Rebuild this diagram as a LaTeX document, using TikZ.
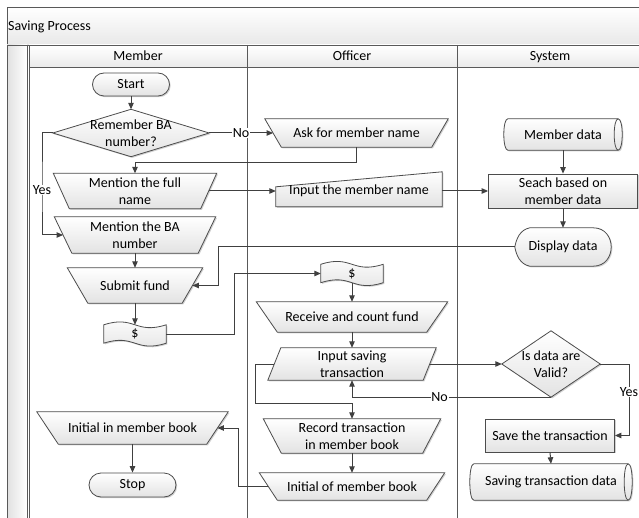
\documentclass[tikz,border=0pt]{standalone}
\usepackage{fontspec}
\setmainfont{Carlito}
\usetikzlibrary{arrows.meta,shadows}
\pgfdeclarelayer{bglayer}
\pgfdeclarelayer{shapelayer}
\pgfsetlayers{bglayer,shapelayer,main}

\tikzset{
  sz/.style 2 args={minimum width=#1pt, minimum height=#2pt},
  lbl/.style={inner sep=0pt, align=center},
  shp/.style={draw=black!70, line width=0.8pt, top color=white, bottom color=black!11,
    drop shadow={shadow xshift=1.2pt, shadow yshift=-1.2pt, fill=black, opacity=0.18}},
  lane/.style={draw=black!65, line width=0.9pt},
  conn/.style={draw=black!75, line width=1pt, -{Triangle[length=6.5pt,width=5.5pt]}},
  tag/.style={fill=white, inner sep=0.8pt},
  head/.style={anchor=base, inner sep=0pt},
}

% manual operation (wide top, narrow bottom); #2 = inset of the bottom corners
\newcommand\manop[2]{\begin{pgfonlayer}{shapelayer}
  \path[shp] (#1.north west) -- (#1.north east) -- ([xshift=-#2]#1.south east)
    -- ([xshift=#2]#1.south west) -- cycle;\end{pgfonlayer}}
% data (parallelogram leaning right); #2 = slant
\newcommand\pgramshape[2]{\begin{pgfonlayer}{shapelayer}
  \path[shp] (#1.south west) -- ([xshift=#2]#1.north west) -- (#1.north east)
    -- ([xshift=-#2]#1.south east) -- cycle;\end{pgfonlayer}}
% decision
\newcommand\decshape[1]{\begin{pgfonlayer}{shapelayer}
  \path[shp] (#1.north) -- (#1.east) -- (#1.south) -- (#1.west) -- cycle;\end{pgfonlayer}}
% punched tape (wavy top and bottom)
\newcommand\tapeshape[1]{\begin{pgfonlayer}{shapelayer}
  \path[shp] (#1.north west) .. controls ([xshift=31pt,yshift=10pt]#1.north west)
      and ([xshift=-31pt,yshift=-10pt]#1.north east) .. (#1.north east)
    -- (#1.south east) .. controls ([xshift=-31pt,yshift=-10pt]#1.south east)
      and ([xshift=31pt,yshift=10pt]#1.south west) .. (#1.south west) -- cycle;\end{pgfonlayer}}
% display
\newcommand\dispshape[1]{\begin{pgfonlayer}{shapelayer}
  \path[shp] ([xshift=15pt]#1.north west) -- ([xshift=-18pt]#1.north east)
    .. controls ([xshift=6pt]#1.north east) and ([xshift=6pt]#1.south east) .. ([xshift=-18pt]#1.south east)
    -- ([xshift=15pt]#1.south west)
    .. controls ([xshift=5pt,yshift=2pt]#1.south west) and ([xshift=1.5pt,yshift=-8pt]#1.west) .. (#1.west)
    .. controls ([xshift=1.5pt,yshift=8pt]#1.west) and ([xshift=5pt,yshift=-2pt]#1.north west) .. ([xshift=15pt]#1.north west)
    -- cycle;\end{pgfonlayer}}
% horizontal drum (direct access storage); #2 = end radius
\newcommand\cylshape[2]{\begin{pgfonlayer}{shapelayer}
  \path[shp] ([xshift=#2]#1.north west) -- ([xshift=-#2]#1.north east)
    .. controls ([xshift=#2/3]#1.north east) and ([xshift=#2/3]#1.south east) .. ([xshift=-#2]#1.south east)
    -- ([xshift=#2]#1.south west)
    .. controls ([xshift=-#2/3]#1.south west) and ([xshift=-#2/3]#1.north west) .. ([xshift=#2]#1.north west)
    -- cycle;
  \draw[draw=black!70, line width=0.8pt] ([xshift=-#2]#1.north east)
    .. controls ([xshift=-7*#2/3]#1.north east) and ([xshift=-7*#2/3]#1.south east) .. ([xshift=-#2]#1.south east);
  \end{pgfonlayer}}

\begin{document}
\begin{tikzpicture}[x=1pt, y=-1pt, font=\fontsize{14pt}{16.5pt}\selectfont]
\useasboundingbox (0,0) rectangle (639,518);

% ---- pool and lanes ----
\begin{pgfonlayer}{bglayer}
  \fill[white] (0,0) rectangle (639,518);
  \path[lane, top color=white, bottom color=black!9] (7,7) rectangle (660,45);
  \path[lane, left color=black!12, right color=white] (7,45) rectangle (27,530);
  \path[lane, top color=white, bottom color=black!8] (29,45) rectangle (643,67);
  \draw[lane] (29,67) -- (29,530);
  \draw[lane] (247,45) -- (247,530);
  \draw[lane] (457,45) -- (457,530);
  \draw[lane] (643,45) -- (643,530);
\end{pgfonlayer}
\node[head, anchor=base west] (ttl) at (8,30.5) {Saving Process};
\node[head] (hm) at (138,61) {Member};
\node[head] (ho) at (352,61) {Officer};
\node[head] (hs) at (550,61) {System};

% ---- Member lane ----
\node[lbl, sz={77}{23}, shp, rounded corners=11.5pt] (start) at (131,84.5) {Start};
\node[lbl, sz={156}{47}] (dec1) at (131,133) {Remember BA\\number?};
\decshape{dec1}
\node[lbl, sz={163}{35}] (mfn) at (135,191) {Mention the full\\name};
\manop{mfn}{16pt}
\node[lbl, sz={161}{36}] (mba) at (135,235) {Mention the BA\\number};
\manop{mba}{17.5pt}
\node[lbl, sz={135}{35}] (sub) at (135,285.5) {Submit fund};
\manop{sub}{20.5pt}
\node[lbl, sz={62}{18}] (dol1) at (135,334) {\$};
\tapeshape{dol1}
\node[lbl, sz={191}{32}] (iimb) at (132.5,428) {Initial in member book};
\manop{iimb}{21.5pt}
\node[lbl, sz={87}{24}, shp, rounded corners=12pt] (stop) at (132.5,485) {Stop};

% ---- Officer lane ----
\node[lbl, sz={183}{28}] (ask) at (356.5,133) {Ask for member name};
\manop{ask}{16.5pt}
\node[lbl, sz={166}{31}] (imn) at (359,191) {Input the member name};
\begin{pgfonlayer}{shapelayer}
  \path[shp] (imn.south west) -- ([yshift=-11.5pt]imn.north west)
    -- ([yshift=3.5pt]imn.north east) -- (imn.south east) -- cycle;
\end{pgfonlayer}
\node[lbl, sz={62}{18}] (dol2) at (352,273.5) {\$};
\tapeshape{dol2}
\node[lbl, sz={191}{30}] (rcf) at (352,317) {Receive and count fund};
\manop{rcf}{21pt}
\node[lbl, sz={168}{32}] (ist) at (352,364) {Input saving\\transaction};
\pgramshape{ist}{13pt}
\node[lbl, sz={177}{34}] (rtm) at (352,436) {Record transaction\\in member book};
\manop{rtm}{18pt}
\node[lbl, sz={185}{27}] (iomb) at (352,486.5) {Initial of member book};
\manop{iomb}{18pt}

% ---- System lane ----
\node[lbl, sz={118}{31}] (md) at (563,134.5) {Member data};
\cylshape{md}{4pt}
\node[lbl, sz={149}{34}, shp] (sbmd) at (563,191) {Seach based on\\member data};
\node[lbl, sz={96}{38}] (dd) at (563,247) {Display data};
\dispshape{dd}
\node[lbl, sz={98}{66}] (val) at (551,364) {Is data are\\Valid?};
\decshape{val}
\node[lbl, sz={129}{33}, shp] (save) at (550,435.5) {Save the transaction};
\node[lbl, sz={162}{36}] (std) at (551,482) {Saving transaction data};
\cylshape{std}{4pt}

% ---- bend points ----
\coordinate (yk) at (42,190);
\coordinate (dk) at (218,285.5);
\coordinate (fk) at (234,273.5);
\coordinate (lk) at (255,403);
\coordinate (ik) at (238,428);
\coordinate (vk) at (629,392);

% ---- connectors ----
\draw[conn] (start.south) -- (dec1.north);
\draw[conn] (dec1.east) -- node[tag]{No} ([xshift=8.25pt]ask.west);
\draw[conn] (ask.south) -- ++(0,15) -| (mfn.north);
\draw[conn] (dec1.west) -| (yk) node[tag]{Yes} |- ([xshift=8.75pt]mba.west);
\draw[conn] ([xshift=-8pt]mfn.east) -- (imn.west);
\draw[conn] (imn.east) -- (sbmd.west);
\draw[conn] (md.south) -- (sbmd.north);
\draw[conn] (sbmd.south) -- (dd.north);
\draw[conn] (dd.west) -| (dk) -- ([xshift=-10.25pt]sub.east);
\draw[conn] (mba.south) -- (sub.north);
\draw[conn] (sub.south) -- (dol1.north);
\draw[conn] (dol1.east) -| (fk) -- (dol2.west);
\draw[conn] (dol2.south) -- (rcf.north);
\draw[conn] (rcf.south) -- (ist.north);
\draw[conn] ([xshift=-6.5pt]ist.east) -- (val.west);
\draw[conn] (val.south) -| node[tag, pos=0.28]{No} (ist.south);
\draw[conn] ([xshift=6.5pt]ist.west) -| (lk) -| (rtm.north);
\draw[conn] (rtm.south) -- (iomb.north);
\draw[conn] ([xshift=9pt]iomb.west) -| (ik) -- ([xshift=-10.75pt]iimb.east);
\draw[conn] (iimb.south) -- (stop.north);
\draw[conn] (val.east) -| (vk) node[tag]{Yes} |- (save.east);
\draw[conn] (save.south) -- (std.north);
\end{tikzpicture}
\end{document}
